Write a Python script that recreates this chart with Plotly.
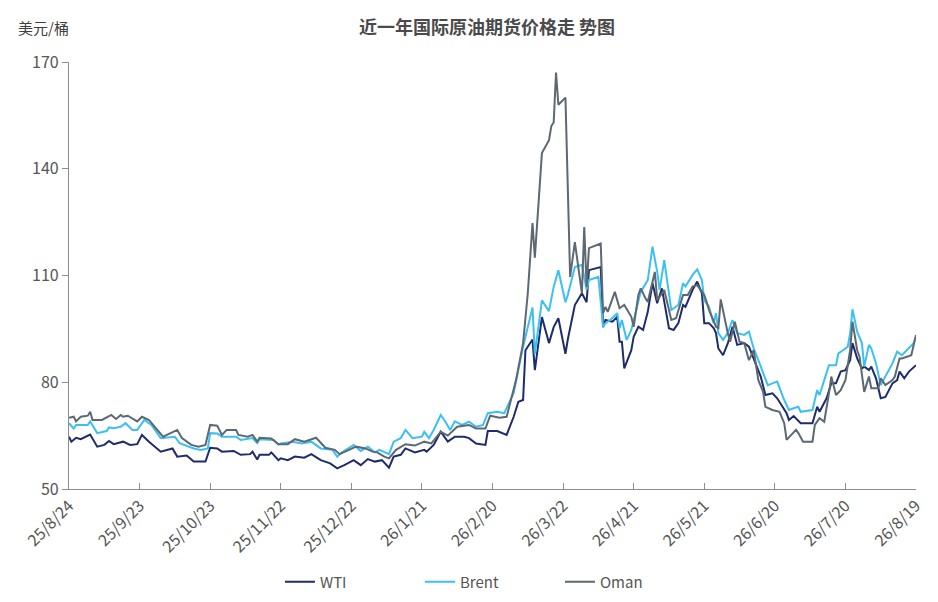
import plotly.graph_objects as go

# prices, USD per barrel
wti_dates = [
    "2025-08-24", "2025-08-25", "2025-08-27", "2025-08-29", "2025-09-02", "2025-09-05", "2025-09-08",
    "2025-09-10", "2025-09-12", "2025-09-16", "2025-09-19", "2025-09-22", "2025-09-24", "2025-09-27",
    "2025-10-02", "2025-10-07", "2025-10-09", "2025-10-13", "2025-10-16", "2025-10-21", "2025-10-23",
    "2025-10-26", "2025-10-28", "2025-11-02", "2025-11-05", "2025-11-09", "2025-11-10", "2025-11-12",
    "2025-11-13", "2025-11-17", "2025-11-18", "2025-11-21", "2025-11-22", "2025-11-25", "2025-11-28",
    "2025-12-02", "2025-12-05", "2025-12-09", "2025-12-13", "2025-12-16", "2025-12-19", "2025-12-23",
    "2025-12-26", "2025-12-29", "2026-01-01", "2026-01-04", "2026-01-07", "2026-01-09", "2026-01-12",
    "2026-01-14", "2026-01-18", "2026-01-22", "2026-01-23", "2026-01-26", "2026-01-29", "2026-02-01",
    "2026-02-04", "2026-02-08", "2026-02-10", "2026-02-13", "2026-02-17", "2026-02-18", "2026-02-22",
    "2026-02-26", "2026-03-01", "2026-03-03", "2026-03-05", "2026-03-06", "2026-03-09", "2026-03-10",
    "2026-03-13", "2026-03-16", "2026-03-18", "2026-03-20", "2026-03-23", "2026-03-24", "2026-03-27",
    "2026-03-30", "2026-04-01", "2026-04-02", "2026-04-07", "2026-04-08", "2026-04-09", "2026-04-12",
    "2026-04-14", "2026-04-15", "2026-04-16", "2026-04-17", "2026-04-20", "2026-04-21", "2026-04-23",
    "2026-04-25", "2026-04-27", "2026-04-29", "2026-05-01", "2026-05-03", "2026-05-06", "2026-05-08",
    "2026-05-10", "2026-05-12", "2026-05-13", "2026-05-16", "2026-05-18", "2026-05-20", "2026-05-21",
    "2026-05-23", "2026-05-25", "2026-05-26", "2026-05-27", "2026-05-29", "2026-05-31", "2026-06-02",
    "2026-06-04", "2026-06-07", "2026-06-09", "2026-06-11", "2026-06-14", "2026-06-16", "2026-06-19",
    "2026-06-21", "2026-06-24", "2026-06-25", "2026-06-26", "2026-06-28", "2026-07-01", "2026-07-06",
    "2026-07-08", "2026-07-09", "2026-07-12", "2026-07-14", "2026-07-16", "2026-07-18", "2026-07-20",
    "2026-07-22", "2026-07-23", "2026-07-25", "2026-07-27", "2026-07-28", "2026-07-30", "2026-07-31",
    "2026-08-02", "2026-08-04", "2026-08-06", "2026-08-09", "2026-08-11", "2026-08-12", "2026-08-14",
    "2026-08-16", "2026-08-19",
]
wti = [
    64.7, 63.3, 64.4, 64.0, 65.3, 61.9, 62.4, 63.5, 62.6, 63.3, 62.4, 62.6, 65.2, 63.3,
    60.5, 61.4, 59.1, 59.4, 57.7, 57.7, 61.6, 61.4, 60.5, 60.7, 59.6, 59.8, 60.5, 58.3,
    59.6, 59.6, 60.3, 58.1, 58.6, 58.1, 59.1, 58.8, 59.8, 58.1, 57.2, 55.8, 56.7, 58.1,
    56.7, 58.4, 57.7, 58.1, 56.0, 59.1, 59.6, 61.4, 60.3, 61.0, 60.5, 62.4, 66.1, 63.3,
    64.7, 64.7, 64.3, 62.8, 62.4, 66.3, 66.3, 65.2, 70.3, 74.5, 75.0, 89.0, 92.0, 83.4,
    98.3, 91.0, 95.5, 98.0, 88.0, 92.0, 101.7, 105.0, 102.5, 111.5, 112.4, 95.5, 97.5, 97.0,
    98.4, 91.4, 91.4, 83.9, 89.0, 92.8, 95.6, 94.7, 99.8, 107.8, 102.2, 106.4, 95.2, 94.7,
    96.6, 101.7, 101.2, 105.9, 108.3, 105.0, 96.6, 96.6, 95.2, 93.8, 89.5, 87.6, 90.9, 95.6,
    90.5, 91.0, 90.0, 86.7, 81.6, 76.4, 76.9, 75.5, 72.2, 71.3, 69.4, 70.5, 68.5, 68.5,
    73.1, 71.7, 75.5, 79.7, 79.7, 83.0, 83.4, 86.2, 91.0, 86.7, 83.9, 84.4, 83.4, 84.4,
    81.1, 75.5, 75.9, 79.7, 80.6, 83.0, 81.1, 83.0, 84.8,
]

brent_dates = [
    "2025-08-24", "2025-08-26", "2025-08-27", "2025-09-01", "2025-09-02", "2025-09-05", "2025-09-09",
    "2025-09-10", "2025-09-12", "2025-09-15", "2025-09-17", "2025-09-20", "2025-09-22", "2025-09-25",
    "2025-09-28", "2025-10-02", "2025-10-08", "2025-10-10", "2025-10-16", "2025-10-19", "2025-10-22",
    "2025-10-23", "2025-10-26", "2025-10-28", "2025-11-03", "2025-11-05", "2025-11-10", "2025-11-12",
    "2025-11-13", "2025-11-19", "2025-11-21", "2025-11-22", "2025-11-27", "2025-12-01", "2025-12-05",
    "2025-12-09", "2025-12-14", "2025-12-16", "2025-12-18", "2025-12-23", "2025-12-26", "2025-12-29",
    "2026-01-01", "2026-01-03", "2026-01-07", "2026-01-09", "2026-01-12", "2026-01-14", "2026-01-17",
    "2026-01-21", "2026-01-22", "2026-01-24", "2026-01-26", "2026-01-29", "2026-01-31", "2026-02-02",
    "2026-02-04", "2026-02-07", "2026-02-10", "2026-02-13", "2026-02-16", "2026-02-18", "2026-02-22",
    "2026-02-25", "2026-03-01", "2026-03-05", "2026-03-09", "2026-03-10", "2026-03-13", "2026-03-16",
    "2026-03-18", "2026-03-20", "2026-03-23", "2026-03-24", "2026-03-27", "2026-03-30", "2026-04-01",
    "2026-04-02", "2026-04-06", "2026-04-08", "2026-04-09", "2026-04-11", "2026-04-14", "2026-04-15",
    "2026-04-16", "2026-04-18", "2026-04-20", "2026-04-22", "2026-04-24", "2026-04-27", "2026-04-29",
    "2026-05-01", "2026-05-02", "2026-05-04", "2026-05-07", "2026-05-10", "2026-05-12", "2026-05-13",
    "2026-05-16", "2026-05-18", "2026-05-20", "2026-05-21", "2026-05-23", "2026-05-25", "2026-05-26",
    "2026-05-27", "2026-05-29", "2026-05-31", "2026-06-02", "2026-06-04", "2026-06-07", "2026-06-09",
    "2026-06-11", "2026-06-13", "2026-06-15", "2026-06-17", "2026-06-19", "2026-06-21", "2026-06-24",
    "2026-06-26", "2026-06-28", "2026-06-30", "2026-07-01", "2026-07-06", "2026-07-08", "2026-07-09",
    "2026-07-11", "2026-07-13", "2026-07-16", "2026-07-17", "2026-07-19", "2026-07-21", "2026-07-22",
    "2026-07-23", "2026-07-25", "2026-07-27", "2026-07-28", "2026-07-30", "2026-07-31", "2026-08-02",
    "2026-08-04", "2026-08-07", "2026-08-09", "2026-08-11", "2026-08-13", "2026-08-18", "2026-08-19",
]
brent = [
    68.5, 67.0, 68.0, 68.0, 69.0, 65.7, 66.3, 67.3, 67.1, 67.5, 68.5, 66.6, 66.6, 69.4,
    68.0, 64.3, 64.7, 62.9, 61.4, 61.0, 61.4, 65.7, 65.6, 64.7, 64.7, 63.8, 64.3, 62.9,
    64.0, 63.8, 62.5, 62.8, 63.3, 62.8, 63.3, 61.4, 61.0, 59.1, 60.3, 62.4, 60.7, 61.9,
    60.3, 61.0, 59.8, 63.3, 64.3, 66.6, 64.3, 64.7, 66.1, 64.3, 66.6, 70.8, 68.9, 66.6,
    69.0, 68.0, 68.9, 67.5, 68.0, 71.3, 71.7, 71.3, 77.0, 90.0, 101.0, 88.0, 103.0, 100.0,
    106.8, 111.5, 102.5, 104.5, 112.4, 113.0, 106.0, 108.7, 109.6, 95.6, 96.6, 97.5, 99.4, 95.2,
    97.5, 91.9, 94.7, 99.8, 105.4, 108.7, 118.1, 111.1, 105.9, 114.3, 100.3, 101.7, 107.8, 106.9,
    110.1, 111.7, 108.7, 103.1, 101.2, 96.6, 99.4, 93.8, 91.9, 93.8, 97.5, 93.8, 93.3, 94.2,
    89.5, 86.2, 82.5, 79.2, 79.7, 80.2, 75.0, 72.2, 72.7, 73.1, 71.7, 72.2, 77.8, 76.4,
    80.6, 84.8, 84.8, 88.1, 89.0, 90.0, 93.8, 100.5, 94.2, 91.0, 84.4, 90.5, 89.5, 85.3,
    79.2, 83.0, 85.3, 88.6, 87.6, 91.0, 92.8,
]

oman_dates = [
    "2025-08-24", "2025-08-26", "2025-08-27", "2025-08-29", "2025-09-01", "2025-09-02", "2025-09-03",
    "2025-09-07", "2025-09-11", "2025-09-13", "2025-09-15", "2025-09-16", "2025-09-18", "2025-09-20",
    "2025-09-22", "2025-09-24", "2025-09-27", "2025-09-30", "2025-10-03", "2025-10-09", "2025-10-11",
    "2025-10-15", "2025-10-18", "2025-10-21", "2025-10-23", "2025-10-26", "2025-10-28", "2025-10-30",
    "2025-11-03", "2025-11-04", "2025-11-08", "2025-11-10", "2025-11-12", "2025-11-13", "2025-11-18",
    "2025-11-21", "2025-11-25", "2025-11-28", "2025-12-02", "2025-12-07", "2025-12-11", "2025-12-15",
    "2025-12-17", "2025-12-21", "2025-12-24", "2025-12-28", "2025-12-31", "2026-01-02", "2026-01-05",
    "2026-01-07", "2026-01-10", "2026-01-14", "2026-01-18", "2026-01-22", "2026-01-25", "2026-01-29",
    "2026-02-01", "2026-02-05", "2026-02-10", "2026-02-13", "2026-02-17", "2026-02-19", "2026-02-23",
    "2026-02-26", "2026-03-02", "2026-03-05", "2026-03-07", "2026-03-09", "2026-03-10", "2026-03-13",
    "2026-03-16", "2026-03-17", "2026-03-18", "2026-03-19", "2026-03-20", "2026-03-23", "2026-03-25",
    "2026-03-27", "2026-03-30", "2026-03-31", "2026-04-01", "2026-04-02", "2026-04-07", "2026-04-08",
    "2026-04-09", "2026-04-10", "2026-04-13", "2026-04-15", "2026-04-17", "2026-04-20", "2026-04-21",
    "2026-04-23", "2026-04-24", "2026-04-26", "2026-04-27", "2026-04-30", "2026-05-01", "2026-05-04",
    "2026-05-07", "2026-05-09", "2026-05-12", "2026-05-14", "2026-05-16", "2026-05-18", "2026-05-21",
    "2026-05-22", "2026-05-23", "2026-05-26", "2026-05-27", "2026-05-28", "2026-05-30", "2026-05-31",
    "2026-06-01", "2026-06-03", "2026-06-05", "2026-06-07", "2026-06-09", "2026-06-11", "2026-06-13",
    "2026-06-15", "2026-06-16", "2026-06-19", "2026-06-22", "2026-06-24", "2026-06-25", "2026-06-28",
    "2026-06-29", "2026-06-30", "2026-07-02", "2026-07-06", "2026-07-07", "2026-07-09", "2026-07-11",
    "2026-07-13", "2026-07-14", "2026-07-16", "2026-07-18", "2026-07-20", "2026-07-22", "2026-07-23",
    "2026-07-25", "2026-07-26", "2026-07-27", "2026-07-28", "2026-07-30", "2026-07-31", "2026-08-03",
    "2026-08-04", "2026-08-06", "2026-08-09", "2026-08-10", "2026-08-12", "2026-08-13", "2026-08-17",
    "2026-08-19",
]
oman = [
    70.0, 70.3, 69.0, 70.3, 70.6, 71.7, 69.4, 69.4, 70.8, 69.7, 70.8, 70.3, 70.6, 69.7,
    69.0, 70.3, 69.4, 67.0, 64.7, 66.6, 64.3, 62.4, 61.9, 62.4, 68.0, 67.8, 65.2, 66.6,
    66.6, 65.2, 64.7, 65.2, 63.3, 64.4, 64.2, 62.6, 62.6, 64.0, 63.3, 64.4, 61.6, 61.0,
    59.8, 61.0, 61.9, 61.4, 60.5, 60.3, 59.1, 58.6, 61.0, 62.6, 62.2, 63.3, 62.8, 66.1,
    65.0, 67.5, 68.0, 67.0, 67.0, 70.6, 70.0, 70.3, 80.6, 91.0, 105.0, 124.7, 115.0, 144.4,
    148.0, 152.0, 153.0, 167.0, 158.0, 160.0, 109.6, 119.4, 105.0, 123.6, 106.8, 117.7, 119.0, 99.4,
    101.2, 99.8, 105.4, 100.8, 101.7, 98.4, 95.6, 104.5, 106.4, 103.6, 102.6, 111.0, 103.1, 105.9,
    97.5, 98.0, 104.5, 104.5, 106.9, 107.3, 104.5, 102.6, 100.3, 95.6, 95.2, 103.3, 96.6, 93.8,
    91.4, 97.0, 91.4, 91.0, 86.2, 89.0, 80.6, 77.3, 73.1, 72.2, 71.7, 68.5, 63.8, 65.7,
    66.6, 65.7, 63.3, 63.3, 68.0, 69.9, 68.9, 76.9, 81.6, 76.4, 77.8, 80.6, 89.0, 97.0,
    89.0, 87.2, 82.5, 77.3, 81.6, 78.3, 78.3, 81.1, 79.2, 80.6, 81.6, 86.7, 86.7, 87.6,
    93.3,
]

tick_dates = [
    "2025-08-24", "2025-09-23", "2025-10-23", "2025-11-22", "2025-12-22", "2026-01-21", "2026-02-20",
    "2026-03-22", "2026-04-21", "2026-05-21", "2026-06-20", "2026-07-20", "2026-08-19",
]
tick_labels = [
    "25/8/24", "25/9/23", "25/10/23", "25/11/22", "25/12/22", "26/1/21", "26/2/20",
    "26/3/22", "26/4/21", "26/5/21", "26/6/20", "26/7/20", "26/8/19",
]

FONT = "Noto Sans CJK SC, Noto Sans, sans-serif"
TEXT = "#555555"

fig = go.Figure()
for name, xs, ys, color in [
    ("WTI", wti_dates, wti, "#1f2c6c"),
    ("Brent", brent_dates, brent, "#3cc0f2"),
    ("Oman", oman_dates, oman, "#5c6872"),
]:
    fig.add_trace(go.Scatter(x=xs, y=ys, name=name, mode="lines",
                             line=dict(color=color, width=2)))

# the page body adds an 8px offset, so the figure is 8px smaller than the window
fig.update_layout(
    width=930, height=594,
    margin=dict(l=61, r=22, t=54, b=113),
    paper_bgcolor="white", plot_bgcolor="white",
    font=dict(family=FONT, size=15, color=TEXT),
    title=dict(text="<b>近一年国际原油期货价格走 势图</b>", x=0.515, xanchor="center",
               y=1 - 20 / 594, yanchor="middle",
               font=dict(family=FONT, size=18, color="#4a4a4a")),
    legend=dict(orientation="h", x=0.497, xanchor="center",
                yref="container", y=1 - 574 / 594, yanchor="middle",
                entrywidth=95, font=dict(size=15, color=TEXT)),
    showlegend=True,
)
fig.update_xaxes(
    type="date", range=[tick_dates[0], tick_dates[-1]],
    tickmode="array", tickvals=tick_dates, ticktext=tick_labels,
    tickangle=-45, ticks="inside", ticklen=6, tickcolor="#8c8c8c",
    showline=True, linecolor="#8c8c8c", linewidth=1.3,
    showgrid=False, zeroline=False, automargin=False,
    tickfont=dict(size=16, color=TEXT),
)
fig.update_yaxes(
    range=[50, 170], tickmode="array", tickvals=[50, 80, 110, 140, 170],
    ticks="outside", ticklen=6, tickcolor="#8c8c8c",
    showline=True, linecolor="#8c8c8c", linewidth=1.3,
    showgrid=False, zeroline=False, automargin=False,
    tickfont=dict(size=16, color=TEXT),
)
fig.add_annotation(text="美元/桶", xref="paper", yref="paper", x=-0.062, y=1 + 34 / 427,
                   xanchor="left", yanchor="middle", showarrow=False,
                   font=dict(family=FONT, size=15, color="#404040"))

fig.write_html("out.html")
